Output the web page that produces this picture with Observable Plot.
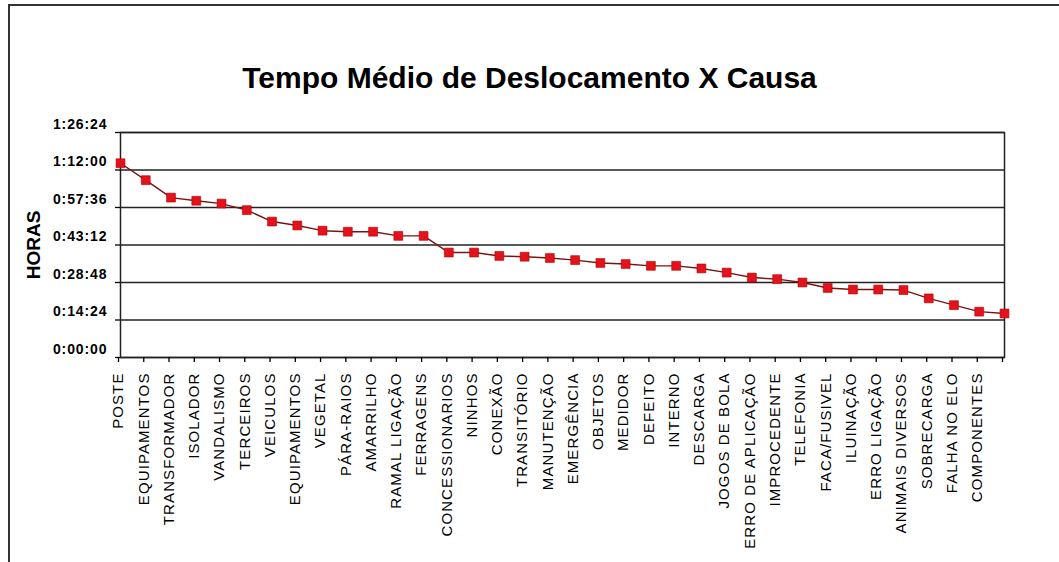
<!DOCTYPE html>
<html><head><meta charset="utf-8">
<script src="https://cdn.jsdelivr.net/npm/d3@7"></script>
<script src="https://cdn.jsdelivr.net/npm/@observablehq/plot@0.6"></script>
<style>
html,body{margin:0;padding:0;background:#fff;}
#wrap{position:relative;width:1059px;height:562px;overflow:hidden;background:#fff;font-family:"Liberation Sans",Arial,sans-serif;}
#chart{position:absolute;left:0;top:0;}
#frame{position:absolute;left:8px;top:4px;width:1200px;height:700px;border-left:2px solid #333;border-top:2px solid #333;pointer-events:none;}
#title{position:absolute;left:0;top:63px;width:1059px;text-align:center;font-size:30px;font-weight:bold;line-height:30px;color:#000;}
#chart g[aria-label="x-axis tick label"] text{letter-spacing:1.1px;}
#chart g[aria-label="y-axis tick label"] text{letter-spacing:0.9px;}
</style></head><body>
<div id="wrap"><div id="chart"></div><div id="frame"></div><div id="title">Tempo Médio de Deslocamento X Causa</div></div>
<script>
const causes = ["POSTE","EQUIPAMENTOS","TRANSFORMADOR","ISOLADOR","VANDALISMO","TERCEIROS","VEICULOS","EQUIPAMENTOS","VEGETAL","PÁRA-RAIOS","AMARRILHO","RAMAL LIGAÇÃO","FERRAGENS","CONCESSIONARIOS","NINHOS","CONEXÃO","TRANSITÓRIO","MANUTENÇÃO","EMERGÊNCIA","OBJETOS","MEDIDOR","DEFEITO","INTERNO","DESCARGA","JOGOS DE BOLA","ERRO DE APLICAÇÃO","IMPROCEDENTE","TELEFONIA","FACA/FUSIVEL","ILUINAÇÃO","ERRO LIGAÇÃO","ANIMAIS DIVERSOS","SOBRECARGA","FALHA NO ELO","COMPONENTES",""];
// average travel time, in minutes
const minutes = [74.6,68.1,61.4,60.2,59.1,56.6,52.2,50.7,48.7,48.3,48.3,46.7,46.7,40.3,40.3,39.0,38.7,38.2,37.4,36.3,35.9,35.2,35.2,34.2,32.6,30.7,30.1,28.8,26.7,26.1,26.1,25.9,22.7,20.1,17.6,16.9];
const yTicks = [0,14.4,28.8,43.2,57.6,72,86.4];
const yTitle = "HORAS";

const pad = n => String(n).padStart(2,"0");
const hms = m => { const s = Math.round(m*60); return `${Math.floor(s/3600)}:${pad(Math.floor((s%3600)/60))}:${pad(s%60)}`; };
const data = minutes.map((v,i)=>({i, v}));
const n = minutes.length;
const yMax = yTicks[yTicks.length-1];

const plot = Plot.plot({
  width: 1059, height: 562,
  marginLeft: 120, marginRight: 55, marginTop: 132, marginBottom: 205,
  style: {fontFamily: '"Liberation Sans", Arial, sans-serif', color: "#000", background: "transparent"},
  x: {domain: [0, n-1]},
  y: {domain: [0, yMax]},
  marks: [
    Plot.ruleY(yTicks, {stroke:"#222", strokeWidth:1.5}),
    Plot.frame({stroke:"#222", strokeWidth:1.5}),
    Plot.axisY({ticks: yTicks, tickSize: 5, tickFormat: () => "", label: null, strokeWidth: 1.3}),
    Plot.axisY({ticks: yTicks, tickFormat: hms, tickSize: 0, tickPadding: 13, fontSize: 14, fontWeight: "bold", dy: -8, label: null}),
    Plot.axisX({ticks: d3.range(n), tickFormat: i => causes[i], tickRotate: -90, tickSize: 5, tickPadding: 10, fontSize: 15, dx: -2, label: null, strokeWidth: 1.3}),
    Plot.line(data, {x:"i", y:"v", stroke:"#7a1414", strokeWidth:1.4}),
    Plot.dot(data, {x:"i", y:"v", symbol:"square", r:5, fill:"#e3121b", stroke:"#b00000", strokeWidth:0.6}),
    Plot.text([yTitle], {frameAnchor:"left", dx:-87, rotate:-90, textAnchor:"middle", fontSize:19, fontWeight:"bold", text: d => d})
  ]
});
document.getElementById("chart").appendChild(plot);
</script>
</body></html>
